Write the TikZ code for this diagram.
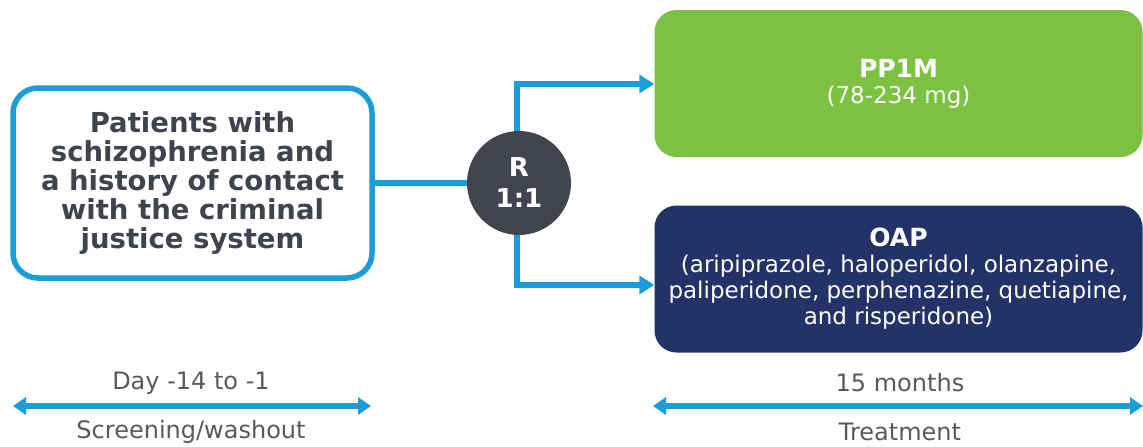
\documentclass[tikz,border=0pt]{standalone}
\usepackage{fontspec}
\setmainfont{DejaVu Sans}
\usetikzlibrary{arrows.meta}
\definecolor{cblue}{HTML}{1B9DD9}
\definecolor{cgreen}{HTML}{7DC142}
\definecolor{cnavy}{HTML}{233368}
\definecolor{cdark}{HTML}{41454F}
\definecolor{ctext}{HTML}{3F434D}
\definecolor{cgray}{HTML}{595959}
\tikzset{
  x=1pt, y=-1pt,
  conn/.style={draw=cblue, line width=6pt},
  arr/.style={conn, -{Triangle[length=15pt,width=18pt]}},
  span/.style={conn, line width=5.5pt, {Triangle[length=13pt,width=17pt]}-{Triangle[length=13pt,width=17pt]}},
  armbox/.style={rounded corners=22pt, minimum width=488pt, minimum height=147pt, text=white, align=center, inner sep=0pt, font=\fontsize{23}{26}\selectfont},
  lbl/.style={text=cgray, font=\fontsize{24}{26}\selectfont, inner sep=0pt},
}
\begin{document}
\begin{tikzpicture}
\useasboundingbox (0,0) rectangle (1143,447);
% left box
\node[draw=cblue, line width=5.5pt, rounded corners=25pt, minimum width=359pt, minimum height=190pt, fill=white, text=ctext, align=center, inner sep=0pt, font=\bfseries\fontsize{27.5}{29}\selectfont] (pat) at (192.5,183)
  {Patients with\\schizophrenia and\\a history of contact\\with the criminal\\justice system};
% R circle
\node[circle, fill=cdark, minimum size=104pt, inner sep=0pt, text=white, align=center, font=\bfseries\fontsize{26}{31}\selectfont] (r) at (519,183) {R\\1:1};
% arms
\node[armbox, fill=cgreen] (pp) at (898.5,83.5) {\textbf{\fontsize{25}{30}\selectfont PP1M}\\(78-234 mg)};
\node[armbox, fill=cnavy] (oap) at (898.5,279) {\textbf{\fontsize{25}{29}\selectfont OAP}\\(aripiprazole, haloperidol, olanzapine,\\paliperidone, perphenazine, quetiapine,\\and risperidone)};
% connectors
\draw[conn] (pat.east) -- (r.west);
\coordinate (ptop) at (517,84);
\coordinate (pbot) at (517,285);
\draw[arr] (r.north -| ptop) -- (ptop) -- (pp.west |- ptop);
\draw[arr] (r.south -| pbot) -- (pbot) -- (oap.west |- pbot);
% timeline
\coordinate (s1) at (13,406);
\coordinate (s2) at (371,406);
\coordinate (t1) at (653,406);
\coordinate (t2) at (1143,406);
\draw[span] (s1) -- (s2);
\draw[span] (t1) -- (t2);
\node[lbl] (d1) at (191,383) {Day -14 to -1};
\node[lbl] (d2) at (191,432) {Screening/washout};
\node[lbl] (m1) at (900,383) {15 months};
\node[lbl] (m2) at (900,432) {Treatment};
\end{tikzpicture}
\end{document}
